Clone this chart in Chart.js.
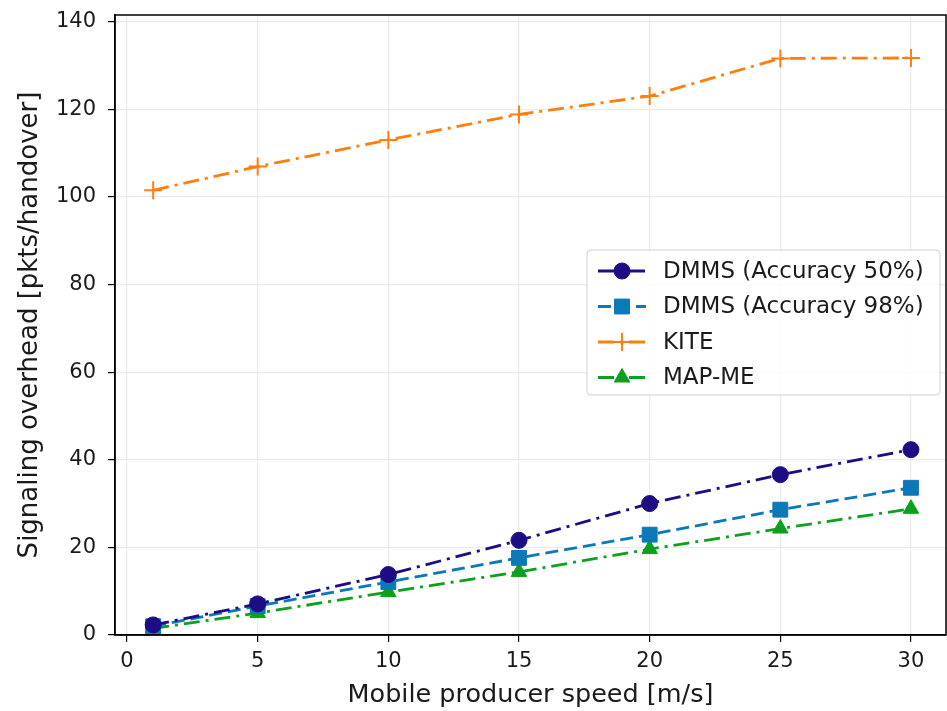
<!DOCTYPE html>
<html>
<head>
<meta charset="utf-8">
<script src="https://cdn.jsdelivr.net/npm/chart.js@4/dist/chart.umd.min.js"></script>
<style>
html,body{margin:0;padding:0;background:#fff;overflow:hidden;}
#wrap{width:947px;height:711px;}
</style>
</head>
<body>
<div id="wrap"><canvas id="c" width="947" height="711"></canvas></div>
<script>
const speeds = [1, 5, 10, 15, 20, 25, 30];
const dmms50 = [2.3, 7.1, 13.8, 21.6, 30.0, 36.6, 42.3];
const dmms98 = [2.0, 6.6, 12.1, 17.6, 22.9, 28.6, 33.6];
const kite = [101.5, 106.9, 113.0, 118.8, 123.0, 131.6, 131.7];
const mapme = [1.5, 5.0, 9.8, 14.4, 19.6, 24.3, 28.8];
const xTicks = [0, 5, 10, 15, 20, 25, 30];
const yTicks = [0, 20, 40, 60, 80, 100, 120, 140];

const FONT = "'DejaVu Sans', sans-serif";
const DASHDOT = [16, 6, 3, 6];
const DASHED = [13, 6];

function pts(arr){ return speeds.map((s,i)=>({x:s, y:arr[i]})); }

function ds(label, data, color, dash, style, radius){
  return {
    label, data: pts(data),
    borderColor: color, backgroundColor: color,
    borderWidth: 2.8, borderDash: dash,
    pointStyle: style, pointRadius: radius, pointHoverRadius: radius,
    pointBorderWidth: style === 'cross' ? 2 : 1,
    pointBackgroundColor: color, pointBorderColor: color,
    tension: 0, fill: false, clip: false
  };
}

const datasets = [
  ds('DMMS (Accuracy 50%)', dmms50, '#1c0d84', DASHDOT, 'circle', 8),
  ds('DMMS (Accuracy 98%)', dmms98, '#0b78b8', DASHED, 'rect', 10.5),
  ds('KITE', kite, '#ff7f0e', DASHDOT, 'cross', 9),
  ds('MAP-ME', mapme, '#0ca01e', DASHDOT, 'triangle', 9)
];

const frame = {
  id: 'frame',
  afterDatasetsDraw(chart){
    const {ctx, chartArea:a} = chart;
    ctx.save();
    ctx.strokeStyle = '#000';
    ctx.lineWidth = 1.5;
    ctx.strokeRect(a.left, a.top, a.right - a.left, a.bottom - a.top);
    ctx.restore();
  }
};

const legendBox = {
  id: 'legendBox',
  afterDraw(chart){
    const ctx = chart.ctx;
    const x0 = 587, y0 = 250, w = 353, h = 145;
    ctx.save();
    ctx.beginPath();
    if (ctx.roundRect) ctx.roundRect(x0, y0, w, h, 4); else ctx.rect(x0, y0, w, h);
    ctx.fillStyle = 'rgba(255,255,255,0.85)';
    ctx.fill();
    ctx.strokeStyle = '#d0d0d0';
    ctx.lineWidth = 1;
    ctx.stroke();
    chart.data.datasets.forEach((d, i) => {
      const y = 271 + i * 35.5;
      ctx.beginPath();
      ctx.strokeStyle = d.borderColor;
      ctx.lineWidth = d.borderWidth;
      ctx.setLineDash(d.borderDash);
      ctx.moveTo(598, y);
      ctx.lineTo(646, y);
      ctx.stroke();
      ctx.setLineDash([]);
      ctx.fillStyle = d.backgroundColor;
      ctx.strokeStyle = d.borderColor;
      ctx.lineWidth = d.pointBorderWidth;
      Chart.helpers.drawPoint(ctx, {pointStyle: d.pointStyle, radius: d.pointRadius, borderWidth: d.pointBorderWidth, rotation: 0}, 622, y);
      ctx.fillStyle = '#1a1a1a';
      ctx.font = '23px ' + FONT;
      ctx.textBaseline = 'middle';
      ctx.textAlign = 'left';
      ctx.fillText(d.label, 663, y + 1);
    });
    ctx.restore();
  }
};

new Chart(document.getElementById('c'), {
  type: 'line',
  data: { datasets },
  plugins: [frame, legendBox],
  options: {
    responsive: false,
    animation: false,
    devicePixelRatio: 1,
    layout: { autoPadding: false, padding: { top: 15, right: 1, left: 0, bottom: 0 } },
    plugins: { legend: { display: false }, tooltip: { enabled: false } },
    scales: {
      x: {
        type: 'linear', min: -0.46, max: 31.34,
        afterBuildTicks(s){ s.ticks = xTicks.map(v => ({value: v})); },
        afterFit(s){ s.height = 76; s.paddingLeft = 0; s.paddingRight = 0; },
        grid: { color: '#ebebeb', lineWidth: 1.2, tickColor: '#000', tickLength: 7, drawOnChartArea: true },
        border: { color: '#000', width: 1.5 },
        ticks: { color: '#1a1a1a', font: { family: FONT, size: 21 }, padding: 7, maxRotation: 0 },
        title: { display: true, text: 'Mobile producer speed [m/s]', color: '#1a1a1a', font: { family: FONT, size: 25.5 }, padding: { top: 2, bottom: 0 } }
      },
      y: {
        type: 'linear', min: 0, max: 141.5,
        afterBuildTicks(s){ s.ticks = yTicks.map(v => ({value: v})); },
        afterFit(s){ s.width = 115; s.paddingTop = 0; s.paddingBottom = 0; },
        grid: { color: '#ebebeb', lineWidth: 1.2, tickColor: '#000', tickLength: 7 },
        border: { color: '#000', width: 1.5 },
        ticks: { color: '#1a1a1a', font: { family: FONT, size: 21 }, padding: 12 },
        title: { display: true, text: 'Signaling overhead [pkts/handover]', color: '#1a1a1a', font: { family: FONT, size: 26 }, padding: { top: 15, bottom: 4 } }
      }
    }
  }
});
</script>
</body>
</html>
